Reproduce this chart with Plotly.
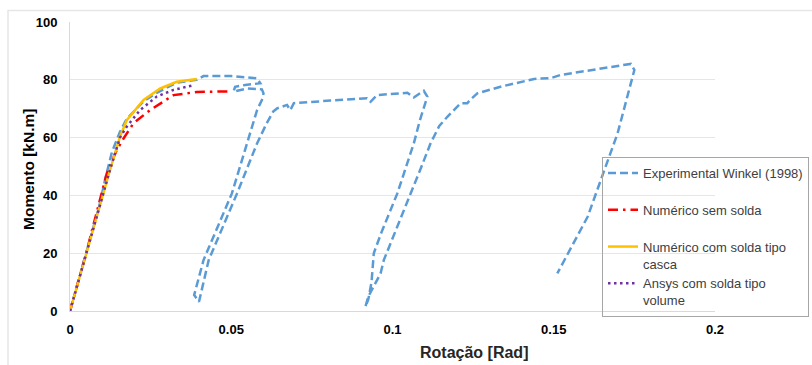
import plotly.graph_objects as go

# Experimental Winkel (1998)
exp_x = [0.0, 0.005, 0.009, 0.011, 0.013, 0.0155, 0.0176, 0.0228, 0.0269, 0.0331, 0.0393, 0.0414,
         0.050, 0.058, 0.059, 0.0543, 0.0512, 0.0507, 0.0549, 0.0595, 0.060,
         0.0595, 0.058, 0.0549, 0.0502, 0.0414, 0.0388, 0.0385,
         0.0400, 0.043, 0.0518, 0.058, 0.061, 0.063, 0.0642, 0.0673, 0.0683, 0.0694,
         0.0807, 0.0921, 0.0932, 0.0952, 0.1046, 0.1066, 0.1097, 0.1108,
         0.1085, 0.1066, 0.1015, 0.0965, 0.0942, 0.0935, 0.0925, 0.0916,
         0.0925, 0.0963, 0.0973, 0.1015, 0.1056, 0.1090, 0.1118, 0.1145, 0.117, 0.1211,
         0.1232, 0.1240, 0.1263, 0.1335, 0.1439, 0.1491, 0.1522, 0.1646, 0.1739, 0.175,
         0.1698, 0.1605, 0.1511]
exp_y = [0.0, 20.0, 36.0, 46.0, 55.0, 62.0, 66.5, 72.5, 75.5, 79.0, 80.0, 81.3,
         81.3, 80.5, 78.8, 78.2, 77.6, 75.9, 77.0, 76.7, 75.3,
         73.0, 69.5, 58.0, 40.7, 17.6, 7.3, 5.5,
         3.2, 17.6, 40.7, 58.0, 65.0, 69.0, 70.1, 71.3, 69.5, 71.9,
         72.8, 73.6, 72.4, 74.7, 75.5, 73.9, 76.2, 74.2,
         66.0, 58.0, 40.7, 27.0, 20.0, 10.0, 4.0, 1.5,
         5.0, 13.0, 17.6, 29.0, 40.7, 50.0, 58.0, 64.0, 67.2, 71.9,
         71.9, 73.0, 75.3, 77.6, 80.3, 80.6, 81.7, 84.0, 85.5, 83.4,
         61.5, 32.6, 13.0]

# Numérico sem solda
sem_x = [0.0, 0.005, 0.0114, 0.0145, 0.0166, 0.0197, 0.0248, 0.0321, 0.0393, 0.0487, 0.0497]
sem_y = [0.0, 20.0, 47.6, 55.7, 59.7, 65.0, 69.5, 74.7, 75.8, 75.9, 76.0]

# Numérico com solda tipo casca
casca_x = [0.0, 0.005, 0.0124, 0.0155, 0.0176, 0.0228, 0.028, 0.0331, 0.0393]
casca_y = [0.0, 20.0, 48.8, 60.3, 66.0, 73.0, 77.0, 79.3, 80.3]

# Ansys com solda tipo volume
vol_x = [0.0, 0.005, 0.0124, 0.0155, 0.0176, 0.0217, 0.0269, 0.0321, 0.0378]
vol_y = [0.0, 20.0, 48.8, 60.0, 63.8, 69.5, 74.2, 76.5, 78.0]

names = ["Experimental Winkel (1998)<br> ", "Numérico sem solda<br> ",
         "Numérico com solda tipo<br>casca", "Ansys com solda tipo<br>volume"]

x_ticks = [0, 0.05, 0.1, 0.15, 0.2]
x_ticklabels = ["0", "0.05", "0.1", "0.15", "0.2"]
y_ticks = [0, 20, 40, 60, 80, 100]

FONT = "Liberation Sans, Arial, sans-serif"

fig = go.Figure()
fig.add_trace(go.Scatter(x=exp_x, y=exp_y, mode="lines", name=names[0], legendgroup="a",
                         line=dict(color="#5B9BD5", width=2.5, dash="8px,4px")))
fig.add_trace(go.Scatter(x=sem_x, y=sem_y, mode="lines", name=names[1], legendgroup="b",
                         line=dict(color="#FF0000", width=2.5, dash="10px,5px,2.5px,5px")))
fig.add_trace(go.Scatter(x=casca_x, y=casca_y, mode="lines", name=names[2], legendgroup="c",
                         line=dict(color="#FFC000", width=2.5, dash="solid")))
fig.add_trace(go.Scatter(x=vol_x, y=vol_y, mode="lines", name=names[3], legendgroup="d",
                         line=dict(color="#7030A0", width=2.5, dash="2.5px,3.5px")))

L, R, T, B = 70, 97, 22, 54
W, H = 812, 365
pw, ph = W - L - R, H - T - B

fig.update_layout(
    width=W, height=H,
    margin=dict(l=L, r=R, t=T, b=B, autoexpand=False),
    paper_bgcolor="white", plot_bgcolor="white",
    font=dict(family=FONT, color="#000000"),
    showlegend=True,
    legend=dict(
        x=(602 - L) / pw, y=(H - B - 157) / ph, xanchor="left", yanchor="top",
        bgcolor="rgba(0,0,0,0)", bordercolor="#A6A6A6", borderwidth=1,
        font=dict(size=13, color="#404040", family=FONT),
        valign="top", tracegroupgap=0, traceorder="normal",
        itemwidth=30,
    ),
    xaxis=dict(
        range=[0, 0.2], tickmode="array", tickvals=x_ticks,
        ticktext=["<b>%s</b>" % t for t in x_ticklabels],
        showgrid=False, zeroline=False, showline=True, linecolor="#D9D9D9", linewidth=1,
        tickfont=dict(size=13, color="#000000", family=FONT),
        ticks="", ticklabelstandoff=6,
    ),
    yaxis=dict(
        range=[0, 100], tickmode="array", tickvals=y_ticks,
        ticktext=["<b>%d</b>" % v for v in y_ticks],
        showgrid=True, gridcolor="#E6E6E6", gridwidth=1,
        zeroline=False, showline=True, linecolor="#D9D9D9", linewidth=1,
        tickfont=dict(size=13, color="#000000", family=FONT),
        ticks="", ticklabelstandoff=9,
    ),
    annotations=[
        dict(text="<b>Rotação [Rad]</b>", xref="paper", yref="paper",
             x=(474 - L) / pw, y=(H - B - 352) / ph, xanchor="center", yanchor="middle",
             showarrow=False, font=dict(size=16, color="#262626", family=FONT)),
        dict(text="<b>Momento [kN.m]</b>", xref="paper", yref="paper", textangle=-90,
             x=(28 - L) / pw, y=(H - B - 170) / ph, xanchor="center", yanchor="middle",
             showarrow=False, font=dict(size=15.5, color="#000000", family=FONT)),
    ],
)

# chart area outer border
fig.add_shape(type="rect", xref="paper", yref="paper",
              x0=(8 - L) / pw, x1=(W + 5 - L) / pw,
              y0=(H - B - (H + 5)) / ph, y1=(H - B - 10.5) / ph,
              line=dict(color="#E6E6E6", width=1.5), fillcolor="rgba(0,0,0,0)", layer="below")

fig.write_html("out.html")
